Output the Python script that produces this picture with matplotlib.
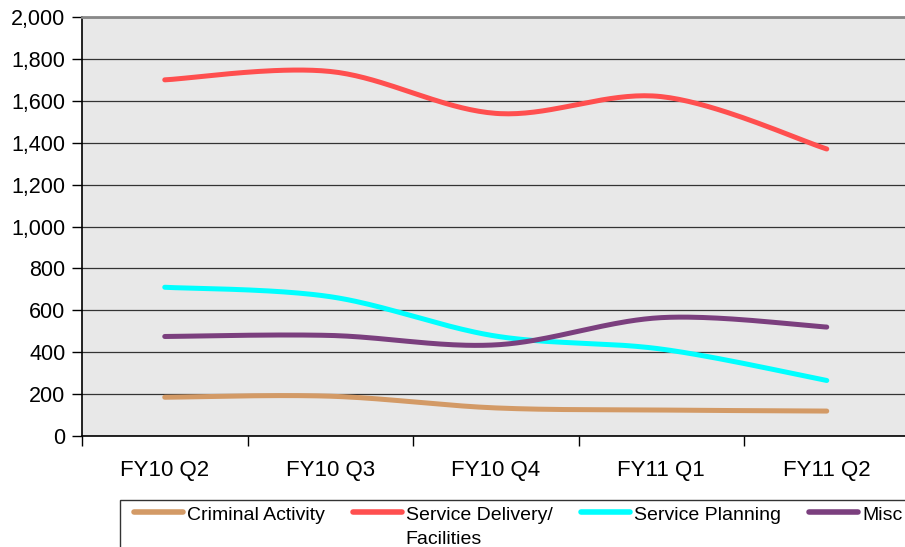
import numpy as np
import matplotlib
matplotlib.use("Agg")
import matplotlib.pyplot as plt

# ---- data ----
quarters = ["FY10 Q2", "FY10 Q3", "FY10 Q4", "FY11 Q1", "FY11 Q2"]
criminal_activity = [185, 190, 134, 124, 119]
service_delivery = [1700, 1740, 1540, 1620, 1370]
service_planning = [710, 665, 477, 415, 265]
misc = [475, 480, 435, 565, 520]

# second line kept blank so every entry lines up with "Facilities"
series_names = ["Criminal Activity\n ", "Service Delivery/\nFacilities", "Service Planning\n ", "Misc\n "]
series_colors = ["#D39A66", "#FF4F4F", "#00FFFF", "#7B3F7E"]


def smooth(xs, ys, steps=40):
    # bezier smoothing through the points (like excel "smoothed line")
    xs = np.asarray(xs, float)
    ys = np.asarray(ys, float)
    px = np.concatenate([[xs[0]], xs, [xs[-1]]])
    py = np.concatenate([[ys[0]], ys, [ys[-1]]])
    out_x, out_y = [], []
    t = np.linspace(0, 1, steps)
    for i in range(1, len(px) - 2):
        x0, x1, x2, x3 = px[i - 1], px[i], px[i + 1], px[i + 2]
        y0, y1, y2, y3 = py[i - 1], py[i], py[i + 1], py[i + 2]
        c1x, c1y = x1 + (x2 - x0) / 6, y1 + (y2 - y0) / 6
        c2x, c2y = x2 - (x3 - x1) / 6, y2 - (y3 - y1) / 6
        bx = (1 - t) ** 3 * x1 + 3 * (1 - t) ** 2 * t * c1x + 3 * (1 - t) * t ** 2 * c2x + t ** 3 * x2
        by = (1 - t) ** 3 * y1 + 3 * (1 - t) ** 2 * t * c1y + 3 * (1 - t) * t ** 2 * c2y + t ** 3 * y2
        out_x.extend(bx)
        out_y.extend(by)
    return out_x, out_y


plt.rcParams['font.family'] = ['Liberation Sans', 'DejaVu Sans']

fig = plt.figure(figsize=(9.05, 5.47), dpi=100)
ax = fig.add_axes([82 / 905, 1 - 436 / 547, 827.5 / 905, 419 / 547])
ax.set_facecolor("#E8E8E8")

x = np.arange(len(quarters))
for vals, name, col in zip([criminal_activity, service_delivery, service_planning, misc],
                           series_names, series_colors):
    sx, sy = smooth(x, vals)
    ax.plot(sx, sy, color=col, lw=3.6, label=name, solid_capstyle="round", zorder=3)

ax.set_xlim(-0.5, len(quarters) - 0.5)
ax.set_ylim(0, 2000)
ax.set_yticks(np.arange(0, 2001, 200))
ax.set_yticklabels([f"{v:,}" for v in range(0, 2001, 200)], fontsize=15.5)
ax.set_xticks(x)
ax.set_xticklabels(quarters, fontsize=16)
ax.set_xticks(np.arange(-0.5, len(quarters), 1), minor=True)
ax.tick_params(axis="x", which="major", length=0, pad=17)
ax.tick_params(axis="x", which="minor", length=7, width=1, direction="out")
ax.tick_params(axis="y", length=7, width=1, pad=5)

ax.grid(axis="y", color="#333333", lw=0.9)
ax.set_axisbelow(True)
for s in ["left", "bottom"]:
    ax.spines[s].set_color("black")
    ax.spines[s].set_linewidth(1.2)
ax.spines["top"].set_color("#888888")
ax.spines["top"].set_linewidth(2)
ax.spines["right"].set_visible(False)

leg = fig.legend(loc="upper left", bbox_to_anchor=(120 / 905, 1 - 500 / 547), ncol=4,
                 fontsize=14, frameon=True, fancybox=False, edgecolor="black",
                 handlelength=2.88, handletextpad=0.2, columnspacing=1.1,
                 borderpad=0.35, borderaxespad=0)
leg.get_frame().set_linewidth(1)
for t in leg.get_texts():
    t.set_linespacing(1.55)
for h in leg.legend_handles:
    h.set_linewidth(4)
    # lift the handle up to the first text line, leave a gap on its left
    xd = np.asarray(h.get_xdata(), float)
    yd = np.asarray(h.get_ydata(), float)
    h.set_data(np.linspace(xd[0] + 5, xd[-1], len(xd)), yd + 11)

fig.savefig("out.png", dpi=100)
